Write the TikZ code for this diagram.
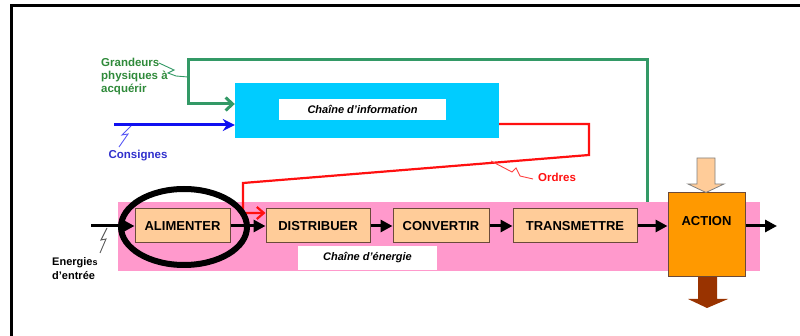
\documentclass[tikz,border=0pt]{standalone}
\usepackage{fontspec}
\setmainfont{Liberation Sans}
\usetikzlibrary{arrows.meta,shapes.geometric,calc}
\definecolor{infocyan}{HTML}{00CCFF}
\definecolor{pinkband}{HTML}{FF99CC}
\definecolor{peach}{HTML}{FFCC99}
\definecolor{boxedge}{HTML}{6B4A3A}
\definecolor{actorange}{HTML}{FF9900}
\definecolor{brownout}{HTML}{993300}
\definecolor{sensegreen}{HTML}{339966}
\definecolor{sensetext}{HTML}{2F8A3A}
\definecolor{orderblue}{HTML}{1010F0}
\definecolor{ordertext}{HTML}{3030CC}
\definecolor{ordred}{HTML}{FF1010}
\tikzset{
  fnbox/.style={draw=boxedge, line width=1pt, fill=peach, minimum height=34,
    inner sep=0pt, font=\fontsize{13}{15}\selectfont\bfseries},
  flow/.style={line width=3pt, -{Triangle[length=12pt,width=12pt]}},
  tagbox/.style={fill=white, inner sep=0pt, font=\fontsize{11}{13}\selectfont\bfseries\itshape},
  zap/.style={line width=0.9pt},
  lbl/.style={inner sep=0pt, font=\fontsize{11.5}{13}\selectfont\bfseries}
}
\begin{document}
\begin{tikzpicture}[x=1pt,y=-1pt]
\useasboundingbox (0,0) rectangle (800,336);
% frame
\draw[line width=3pt] (11,337) -- (11,6) -- (801,6);

% energy chain band
\node[fill=pinkband, minimum width=642, minimum height=69, inner sep=0pt] (band) at (439,236.5) {};
\node[tagbox, minimum width=139, minimum height=24] (etag) at (367.5,258) {Chaîne d’énergie};

% information chain
\node[fill=infocyan, minimum width=264, minimum height=55, inner sep=0pt] (info) at (367,110.5) {};
\node[tagbox, minimum width=167, minimum height=21] (itag) at (362.5,109.5) {Chaîne d’information};

% functional blocks
\node[fnbox, minimum width=95] (alim) at (182.5,226) {ALIMENTER};
\node[fnbox, minimum width=104] (dist) at (318,226) {DISTRIBUER};
\node[fnbox, minimum width=96] (conv) at (441,226) {CONVERTIR};
\node[fnbox, minimum width=124] (trans) at (575,226) {TRANSMETTRE};
\node[draw=boxedge, line width=1pt, fill=actorange, minimum width=77, minimum height=84, inner sep=0pt,
  label={[anchor=base, yshift=-33pt, font=\fontsize{13}{15}\selectfont\bfseries]north:ACTION}] (action) at (706.5,235) {};

% input / output block arrows of the action
\fill[peach] (697,158) -- (715,158) -- (715,184) -- (724,184) -- (action.north -| 706,0) -- (688,184) -- (697,184) -- cycle;
\draw[gray, line width=0.8pt] (697,158) -- (715,158) -- (715,184) -- (724,184) -- (action.north -| 706,0) -- (688,184) -- (697,184) -- cycle;
\fill[brownout] (698,277) -- (717,277) -- (717,299) -- (728,299) -- (707,308) -- (688,299) -- (698,299) -- cycle;

% energy flow
\coordinate (ein) at (91,226);
\coordinate (eout) at (777,226);
\draw[flow] (ein) -- (alim.west);
\draw[flow] (alim.east) -- (dist.west);
\draw[flow] (dist.east) -- (conv.west);
\draw[flow] (conv.east) -- (trans.west);
\draw[flow] (trans.east) -- (trans.east -| action.west);
\draw[flow] (eout -| action.east) -- (eout);

% acquisition loop
\coordinate (gstart) at (647,202);
\draw[sensegreen, line width=3pt, -{Straight Barb[length=7pt,width=13pt]}]
  (gstart) -- (647,60) -- (188,60) -- (188,104) -- ($(info.west)+(0,-6.5)$);

% set points
\coordinate (cstart) at (114,125);
\draw[orderblue, line width=3pt, -{Stealth[length=12pt,width=12pt]}] (cstart) -- ($(info.west)+(0,14.5)$);

% orders
\draw[ordred, line width=2.2pt, -{Straight Barb[length=7pt,width=12pt]}]
  ($(info.east)+(0,13.5)$) -- (589,124) -- (589,155) -- (243,183) -- (243,213) -- ($(dist.west)+(0,-13)$);

% highlight ring
\node[draw, ellipse, line width=6pt, minimum width=126, minimum height=76] (ring) at (184,227) {};

% labels
\node[lbl, text=sensetext, anchor=north west, align=left] (gtxt) at (101,57.5) {Grandeurs\\physiques à\\acquérir};
\draw[zap, sensegreen] (159,63) -- (174,70) -- (168,73) -- (176,76) -- (188,77);
\node[lbl, text=ordertext, anchor=base] (ctxt) at (138,159) {Consignes};
\draw[zap, orderblue!70] (131,126) -- (122,135) -- (128,134) -- (119,147);
\node[lbl, text=ordred, anchor=base west] (otxt) at (538,182) {Ordres};
\draw[zap, ordred!80] (491,161) -- (512,172) -- (516,168) -- (520,176) -- (533,179);
\node[lbl, anchor=north west, align=left, font=\fontsize{11}{13.5}\selectfont\bfseries] (etxt) at (52,257.5) {Energie{\fontsize{9}{10}\selectfont s}\\d’entrée};
\draw[zap, gray!70!black] (107,228) -- (101,240) -- (106,239) -- (100,253);
\end{tikzpicture}
\end{document}
